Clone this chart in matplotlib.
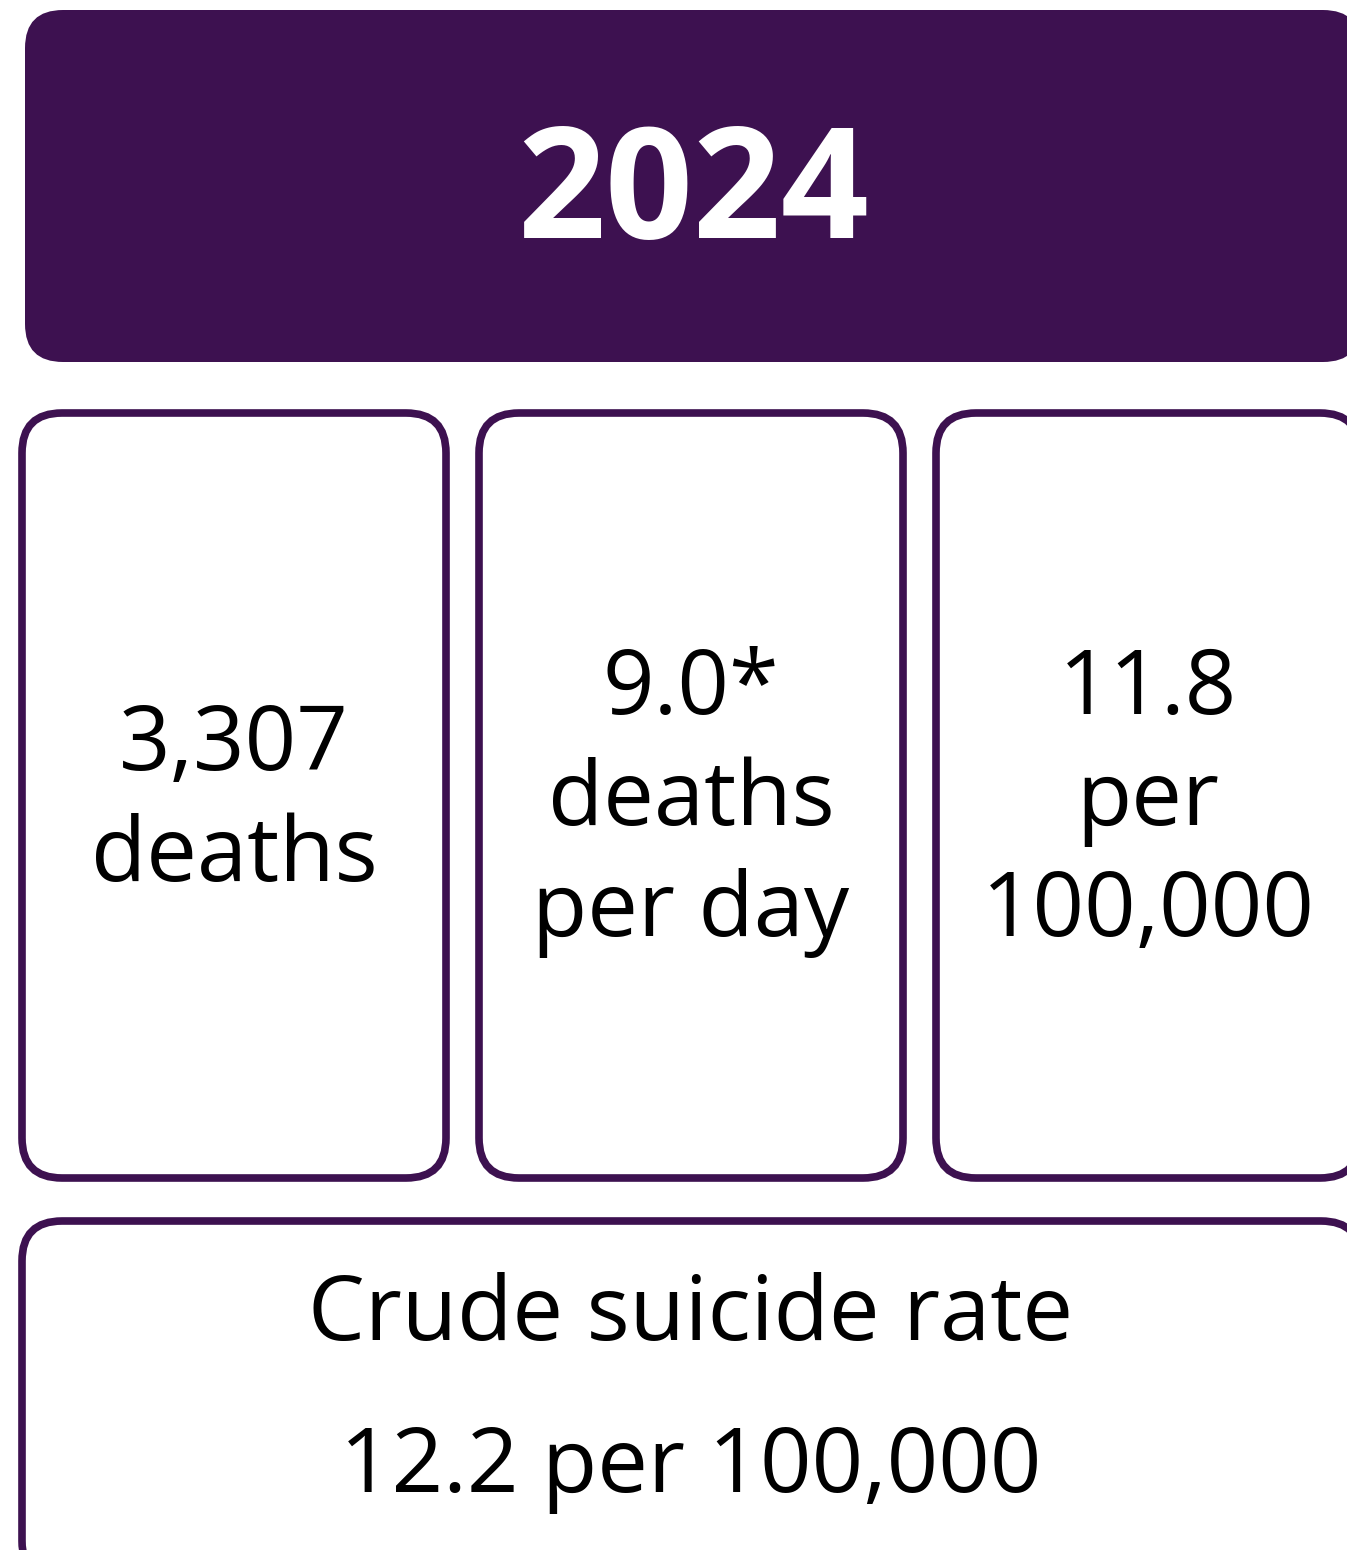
import matplotlib
matplotlib.use('Agg')
import matplotlib.pyplot as plt
from matplotlib.patches import FancyBboxPatch

plt.rcParams['font.family'] = ['Open Sans', 'DejaVu Sans']

# data
year = "2024"
stat_values = ["3,307", "9.0*", "11.8"]
stat_labels = [["deaths"], ["deaths", "per day"], ["per", "100,000"]]
crude_title = "Crude suicide rate"
crude_value = "12.2 per 100,000"

purple = '#3d1150'
W, H = 1347, 1550

fig = plt.figure(figsize=(W / 100, H / 100), dpi=100)
ax = fig.add_axes([0, 0, 1, 1])
ax.set_xlim(0, W)
ax.set_ylim(H, 0)
ax.axis('off')

# header
ax.add_patch(FancyBboxPatch((25, 10), 1336, 352, boxstyle='round,pad=0,rounding_size=38',
                            fc=purple, ec='none'))
ax.text(693, 238, year, color='white', fontsize=111, fontweight='bold',
        ha='center', va='baseline')

# three stat boxes
box_x = [22, 479, 936]
box_w = 424
top_base = [770, 714, 714]
for i in range(3):
    ax.add_patch(FancyBboxPatch((box_x[i], 413), box_w, 765,
                                boxstyle='round,pad=0,rounding_size=40',
                                fc='white', ec=purple, lw=5.5))
    cx = box_x[i] + box_w / 2
    lines = [stat_values[i]] + stat_labels[i]
    for j, s in enumerate(lines):
        ax.text(cx, top_base[i] + j * 111, s, fontsize=65, ha='center', va='baseline',
                color='black')

# bottom box
ax.add_patch(FancyBboxPatch((22, 1221), 1339, 360, boxstyle='round,pad=0,rounding_size=40',
                            fc='white', ec=purple, lw=5.5))
ax.text(691, 1340, crude_title, fontsize=65, ha='center', va='baseline')
ax.text(691, 1492, crude_value, fontsize=65, ha='center', va='baseline')

fig.savefig('out.png', dpi=100)
